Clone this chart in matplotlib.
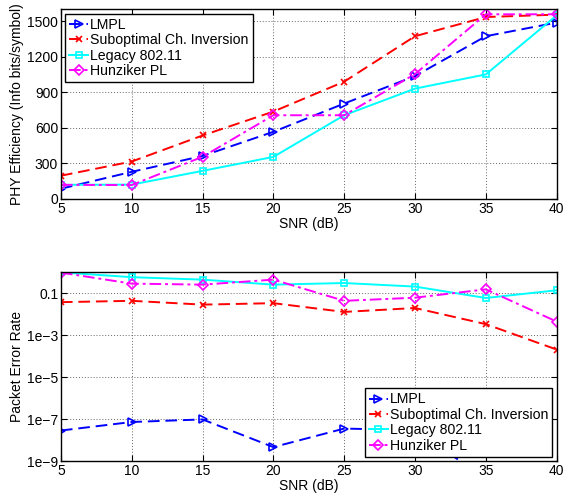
import numpy as np
import matplotlib
matplotlib.use("Agg")
import matplotlib.pyplot as plt
from matplotlib.ticker import FixedLocator, FixedFormatter, NullLocator

plt.rcParams['font.family'] = ['Liberation Sans', 'DejaVu Sans']
plt.rcParams['font.size'] = 10

snr = [5, 10, 15, 20, 25, 30, 35, 40]
labels = ['LMPL', 'Suboptimal Ch. Inversion', 'Legacy 802.11', 'Hunziker PL']

# PHY efficiency (info bits/symbol)
eff_lmpl = [85, 228, 362, 566, 805, 1037, 1374, 1489]
eff_subopt = [195, 315, 535, 737, 990, 1374, 1536, 1556]
eff_legacy = [118, 120, 236, 354, 706, 931, 1051, 1550]
eff_hunz = [118, 116, 355, 706, 706, 1054, 1559, 1559]

# packet error rate
per_lmpl = [2.9e-8, 7.4e-8, 9.8e-8, 4.7e-9, 3.6e-8, 3.0e-8, 1.5e-10, 1e-11]
per_subopt = [0.038, 0.044, 0.029, 0.034, 0.013, 0.020, 0.0034, 2.1e-4]
per_legacy = [1.0, 0.59, 0.45, 0.26, 0.31, 0.21, 0.06, 0.14]
per_hunz = [0.97, 0.29, 0.26, 0.45, 0.044, 0.062, 0.155, 0.0045]

styles = [
    dict(color='#0000ff', ls=(0, (6, 3)), marker='>', mfc='none', ms=6, mew=1.2),
    dict(color='#ff0000', ls=(0, (6, 3)), marker='x', ms=4, mew=1.2),
    dict(color='#00ffff', ls='-', marker='s', mfc='none', ms=5, mew=1.2),
    dict(color='#ff00ff', ls=(0, (6, 2, 1.5, 2)), marker='D', mfc='none', ms=5, mew=1.2),
]

fig = plt.figure(figsize=(5.64, 4.97), dpi=100)
ax1 = fig.add_axes([0.108, 0.600, 0.879, 0.381])
ax2 = fig.add_axes([0.108, 0.072, 0.879, 0.380])

for ys, st, lab in zip([eff_lmpl, eff_subopt, eff_legacy, eff_hunz], styles, labels):
    ax1.plot(snr, ys, lw=1.4, label=lab, **st)
for ys, st, lab in zip([per_lmpl, per_subopt, per_legacy, per_hunz], styles, labels):
    ax2.plot(snr, ys, lw=1.4, label=lab, **st)

ax1.set_xlim(5, 40)
ax1.set_ylim(0, 1600)
ax1.set_yticks([0, 300, 600, 900, 1200, 1500])
ax1.set_ylabel('PHY Efficiency (Info bits/symbol)', labelpad=2)

ax2.set_yscale('log')
ax2.set_xlim(5, 40)
ax2.set_ylim(1e-9, 1)
yt = [1e-9, 1e-7, 1e-5, 1e-3, 0.1]
ax2.yaxis.set_major_locator(FixedLocator(yt))
ax2.yaxis.set_major_formatter(FixedFormatter(['1e\u22129', '1e\u22127', '1e\u22125', '1e\u22123', '0.1']))
ax2.yaxis.set_minor_locator(NullLocator())
ax2.set_ylabel('Packet Error Rate', labelpad=2)

for ax in (ax1, ax2):
    ax.set_xticks(snr)
    ax.set_xlabel('SNR (dB)', labelpad=1)
    ax.grid(True, ls=(0, (1, 2)), color='#666666', lw=0.7)
    ax.tick_params(direction='in', top=True, right=True, length=4, width=0.8, pad=2, labelsize=10)
    for sp in ax.spines.values():
        sp.set_linewidth(1.0)

leg_kw = dict(frameon=True, fancybox=False, edgecolor='black', framealpha=1,
              handlelength=1.3, handletextpad=0.15, borderpad=0.3, labelspacing=0.1,
              borderaxespad=0.3, fontsize=10.2)
l1 = ax1.legend(loc='upper left', **leg_kw)
l2 = ax2.legend(loc='lower right', **leg_kw)
for l in (l1, l2):
    l.get_frame().set_linewidth(1.0)

fig.savefig('out.png', dpi=100)
